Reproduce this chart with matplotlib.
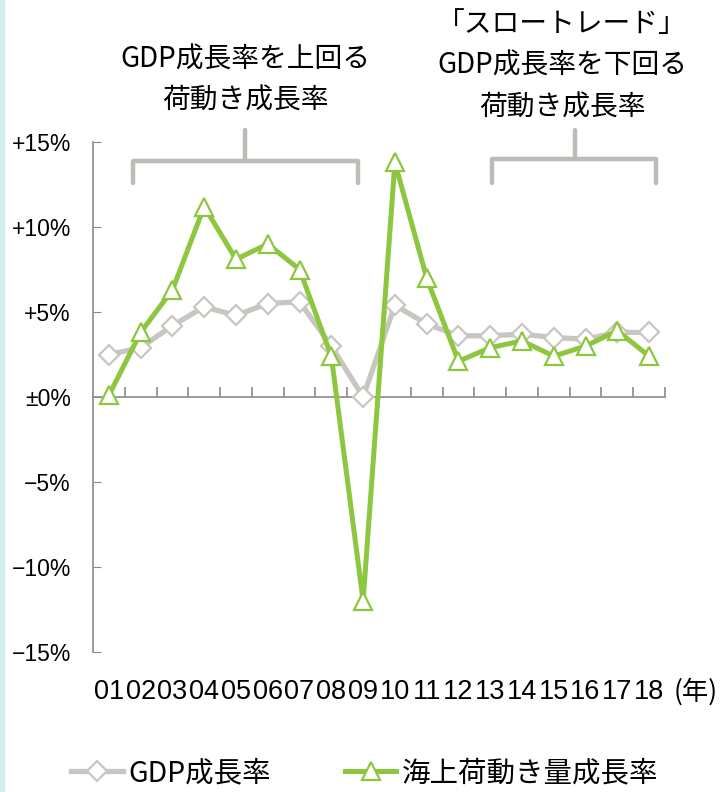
import matplotlib
matplotlib.use("Agg")
import matplotlib.pyplot as plt
from matplotlib.patches import Rectangle

# data
years = ['01', '02', '03', '04', '05', '06', '07', '08', '09',
         '10', '11', '12', '13', '14', '15', '16', '17', '18']
gdp = [2.5, 2.9, 4.2, 5.3, 4.8, 5.5, 5.6, 3.0, 0.0,
       5.4, 4.3, 3.6, 3.6, 3.7, 3.5, 3.4, 3.8, 3.8]
trade = [0.1, 3.8, 6.3, 11.2, 8.1, 9.0, 7.5, 2.4, -12.0,
         13.8, 7.0, 2.1, 2.9, 3.3, 2.4, 3.0, 3.9, 2.4]
yticks = [15, 10, 5, 0, -5, -10, -15]
ylabels = ['+15%', '+10%', '+5%', '±0%', '−5%', '−10%', '−15%']

GRAY = '#c9c6c1'
GREEN = '#8dc63f'
JP = ['Noto Sans CJK JP', 'DejaVu Sans']
NUM = ['Liberation Sans', 'DejaVu Sans']

fig = plt.figure(figsize=(7.22, 7.92), dpi=100)
fig.patches.append(Rectangle((0, 0), 4 / 722, 1, transform=fig.transFigure,
                             color='#d3eef3', zorder=0))
ax = fig.add_axes([93 / 722, 140 / 792, 572 / 722, 510 / 792])

x = list(range(len(years)))
ax.plot(x, gdp, color=GRAY, lw=3.8, marker='D', ms=10, mfc='white',
        mec=GRAY, mew=1.6, zorder=3, label='GDP成長率')
ax.plot(x, trade, color=GREEN, lw=3.6, marker='^', ms=13, mfc='white',
        mec=GREEN, mew=1.6, zorder=4, label='海上荷動き量成長率')

ax.set_xlim(-0.5, len(years) - 0.5)
ax.set_ylim(-15, 15)

for s in ['top', 'right']:
    ax.spines[s].set_visible(False)
ax.spines['left'].set_color('#8a8a8a')
ax.spines['bottom'].set_color('#8a8a8a')
ax.spines['bottom'].set_position(('data', 0))
ax.spines['left'].set_linewidth(1.2)
ax.spines['bottom'].set_linewidth(1.2)

ax.set_yticks(yticks)
ax.set_yticklabels(ylabels, family=NUM, fontsize=16.5)
ax.tick_params(axis='y', direction='in', length=6, color='#8a8a8a', pad=16)

ax.set_xticks([i + 0.5 for i in x])
ax.set_xticklabels([])
ax.tick_params(axis='x', direction='in', length=7, color='#8a8a8a', width=1.2)

for i, lab in enumerate(years):
    ax.text(i, -0.078, lab, transform=ax.get_xaxis_transform(), ha='center',
            va='center', fontsize=19.5, family=NUM)
ax.text(18.45, -0.078, '(年)', transform=ax.get_xaxis_transform(), ha='center',
        va='center', fontsize=19, family=JP)

# brackets over the two periods
def bracket(x0, x1, xm, ytop, ybot, ytip):
    ax.plot([x0, x0, x1, x1], [ybot, ytop, ytop, ybot], color='#bdbbb6', lw=3.2,
            clip_on=False, solid_joinstyle='round', solid_capstyle='round')
    ax.plot([xm, xm], [ytop, ytip], color='#bdbbb6', lw=3.2, clip_on=False,
            solid_capstyle='round')

bracket(0.76, 7.84, 4.28, 13.9, 12.6, 15.7)
bracket(12.06, 17.23, 14.68, 14.0, 12.6, 15.7)

fig.text(245 / 722, 1 - 80 / 792, 'GDP成長率を上回る\n荷動き成長率', ha='center',
         va='center', fontsize=20, family=JP, linespacing=1.45)
fig.text(562 / 722, 1 - 66 / 792, '「スロートレード」\nGDP成長率を下回る\n荷動き成長率',
         ha='center', va='center', fontsize=20, family=JP, linespacing=1.5)

leg = ax.legend(loc='center', bbox_to_anchor=(365 / 722, 1 - 773 / 792),
                bbox_transform=fig.transFigure, ncol=2, frameon=False,
                prop={'family': JP, 'size': 20.5}, handlelength=1.8,
                handletextpad=0.2, columnspacing=2.6, borderpad=0)

fig.savefig('out.png', dpi=100)
